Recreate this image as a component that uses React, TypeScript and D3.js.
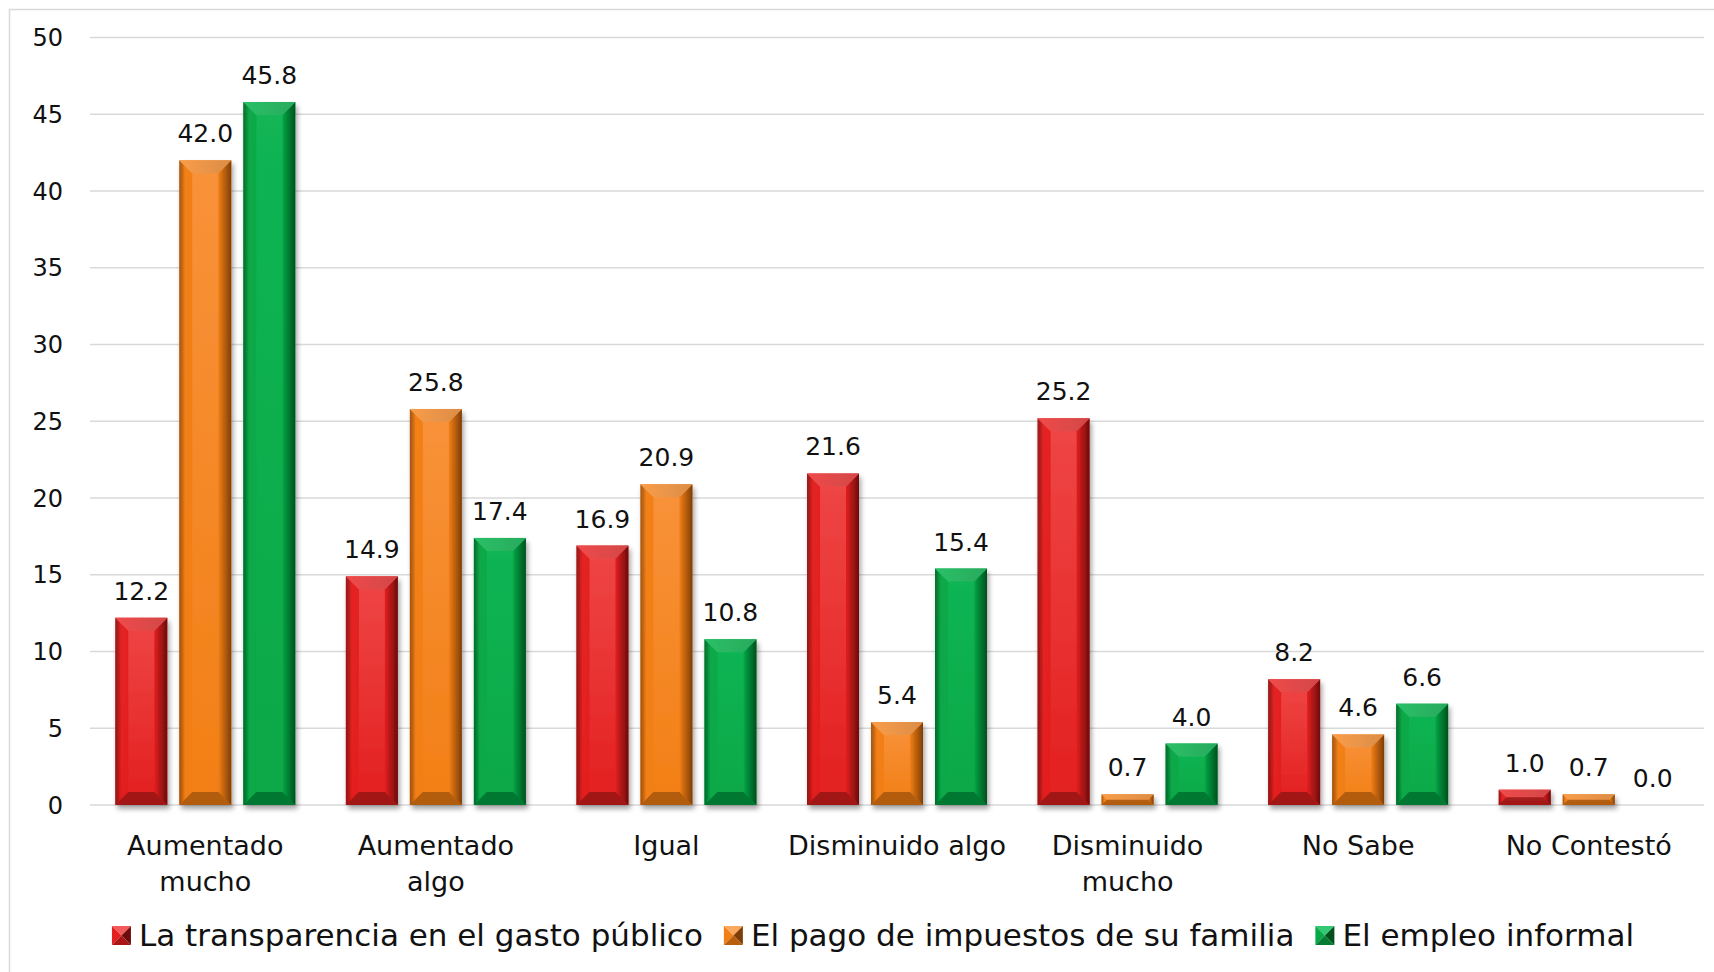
import { useEffect, useRef } from 'react';
import * as d3 from 'd3';

const categories = [
  'Aumentado\nmucho',
  'Aumentado\nalgo',
  'Igual',
  'Disminuido algo',
  'Disminuido\nmucho',
  'No Sabe',
  'No Contestó',
];
const seriesNames = [
  'La transparencia en el gasto público',
  'El pago de impuestos de su familia',
  'El empleo informal',
];
const transparencia = [12.2, 14.9, 16.9, 21.6, 25.2, 8.2, 1.0];
const impuestos = [42.0, 25.8, 20.9, 5.4, 0.7, 4.6, 0.7];
const empleo = [45.8, 17.4, 10.8, 15.4, 4.0, 6.6, 0.0];
const yTicks = [0, 5, 10, 15, 20, 25, 30, 35, 40, 45, 50];

const palette = [
  { light: '#F45A5A', top: '#EF4646', base: '#E31F1F', dark: '#6E0C0C' },
  { light: '#FBA75C', top: '#F8923A', base: '#F27F15', dark: '#7E3E05' },
  { light: '#35C872', top: '#12B554', base: '#07A847', dark: '#02501D' },
];

const WIDTH = 1714;
const HEIGHT = 972;
const FONT = '"DejaVu Sans", sans-serif';

export default function App() {
  const svgRef = useRef<SVGSVGElement>(null);

  useEffect(() => {
    if (!svgRef.current) return;
    const svg = d3.select(svgRef.current);
    svg.selectAll('*').remove();

    const series = [transparencia, impuestos, empleo];
    const margin = { top: 37.5, left: 90, right: 10, bottom: 167 };

    const x = d3.scaleBand<string>()
      .domain(categories)
      .range([margin.left, WIDTH - margin.right])
      .paddingInner(0)
      .paddingOuter(0);
    const y = d3.scaleLinear()
      .domain([0, 50])
      .range([HEIGHT - margin.bottom, margin.top]);

    const barW = 52;
    const step = 64;
    const sub = d3.scaleLinear().domain([0, 2]).range([-step, step]);

    // defs: shadow + gradients
    const defs = svg.append('defs');
    const shadow = defs.append('filter')
      .attr('id', 'shadow')
      .attr('filterUnits', 'userSpaceOnUse')
      .attr('x', 0).attr('y', 0).attr('width', WIDTH).attr('height', HEIGHT);
    shadow.append('feDropShadow')
      .attr('dx', 2).attr('dy', 4).attr('stdDeviation', 2.5)
      .attr('flood-color', '#000').attr('flood-opacity', 0.35);

    palette.forEach((p, i) => {
      const body = defs.append('linearGradient')
        .attr('id', `body-${i}`).attr('x1', 0).attr('y1', 0).attr('x2', 0).attr('y2', 1);
      body.append('stop').attr('offset', '0%').attr('stop-color', p.top);
      body.append('stop').attr('offset', '100%').attr('stop-color', p.base);

      const right = defs.append('linearGradient')
        .attr('id', `right-${i}`).attr('x1', 0).attr('y1', 0).attr('x2', 1).attr('y2', 0);
      right.append('stop').attr('offset', '0%').attr('stop-color', p.base);
      right.append('stop').attr('offset', '100%').attr('stop-color', p.dark);

      const left = defs.append('linearGradient')
        .attr('id', `left-${i}`).attr('x1', 0).attr('y1', 0).attr('x2', 1).attr('y2', 0);
      left.append('stop').attr('offset', '0%').attr('stop-color', p.dark).attr('stop-opacity', 0.7);
      left.append('stop').attr('offset', '45%').attr('stop-color', p.base).attr('stop-opacity', 0.9);
      left.append('stop').attr('offset', '100%').attr('stop-color', p.base).attr('stop-opacity', 1);
    });

    // chart border
    svg.append('rect')
      .attr('x', 9.5).attr('y', 9.5)
      .attr('width', WIDTH).attr('height', HEIGHT)
      .attr('fill', '#fff')
      .attr('stroke', '#D9D9D9').attr('stroke-width', 1.5);

    // gridlines
    svg.append('g')
      .selectAll('line')
      .data(yTicks)
      .enter()
      .append('line')
      .attr('x1', margin.left).attr('x2', WIDTH - margin.right)
      .attr('y1', d => y(d)).attr('y2', d => y(d))
      .attr('stroke', '#D9D9D9').attr('stroke-width', 1.6);

    // y tick labels
    svg.append('g')
      .selectAll('text')
      .data(yTicks)
      .enter()
      .append('text')
      .attr('x', 63)
      .attr('y', d => y(d))
      .attr('dy', '0.36em')
      .attr('text-anchor', 'end')
      .attr('font-size', 24)
      .attr('fill', '#111')
      .style('font-family', FONT)
      .text(d => d);

    // bars
    const plot = svg.append('g');
    series.forEach((vals, s) => {
      const p = palette[s];
      vals.forEach((v, ci) => {
        const cat = categories[ci];
        const cx = (x(cat) ?? 0) + x.bandwidth() / 2 + sub(s);
        const bx = cx - barW / 2;
        const by = y(v);
        const h = y(0) - y(v);

        if (h > 0) {
          const b = Math.min(13, h / 2, barW / 2);
          const g = plot.append('g').attr('filter', 'url(#shadow)');
          g.append('rect')
            .attr('x', bx).attr('y', by).attr('width', barW).attr('height', h)
            .attr('fill', `url(#body-${s})`);
          g.append('path')
            .attr('d', `M${bx},${by}L${bx + b},${by + b}L${bx + b},${by + h - b}L${bx},${by + h}Z`)
            .attr('fill', `url(#left-${s})`);
          g.append('path')
            .attr('d', `M${bx + barW},${by}L${bx + barW},${by + h}L${bx + barW - b},${by + h - b}L${bx + barW - b},${by + b}Z`)
            .attr('fill', `url(#right-${s})`);
          g.append('path')
            .attr('d', `M${bx},${by}L${bx + barW},${by}L${bx + barW - b},${by + b}L${bx + b},${by + b}Z`)
            .attr('fill', p.light);
          g.append('path')
            .attr('d', `M${bx},${by}L${bx + barW},${by}L${bx + barW - b},${by + b}L${bx + b},${by + b}Z`)
            .attr('fill', 'url(#right-' + s + ')')
            .attr('opacity', 0.25);
          g.append('path')
            .attr('d', `M${bx},${by + h}L${bx + barW},${by + h}L${bx + barW - b},${by + h - b}L${bx + b},${by + h - b}Z`)
            .attr('fill', p.dark)
            .attr('opacity', 0.55);
        }

        plot.append('text')
          .attr('x', cx)
          .attr('y', by - 18)
          .attr('text-anchor', 'middle')
          .attr('font-size', 25)
          .attr('fill', '#111')
          .style('font-family', FONT)
          .text(v.toFixed(1));
      });
    });

    // category labels
    const catG = svg.append('g');
    categories.forEach(cat => {
      const lines = cat.split('\n');
      const t = catG.append('text')
        .attr('x', (x(cat) ?? 0) + x.bandwidth() / 2)
        .attr('y', y(0) + 50)
        .attr('text-anchor', 'middle')
        .attr('font-size', 27)
        .attr('fill', '#111')
        .style('font-family', FONT);
      lines.forEach((ln, i) => {
        t.append('tspan')
          .attr('x', (x(cat) ?? 0) + x.bandwidth() / 2)
          .attr('dy', i === 0 ? 0 : 36)
          .text(ln);
      });
    });

    // legend
    const legend = svg.append('g');
    const marker = 19;
    const gapText = 8;
    const gapItem = 21;
    const items = seriesNames.map((name, i) => {
      const item = legend.append('g');
      const txt = item.append('text')
        .attr('x', marker + gapText)
        .attr('y', 0)
        .attr('font-size', 31)
        .attr('fill', '#111')
        .style('font-family', FONT)
        .text(name);
      const w = (txt.node() as SVGTextElement).getComputedTextLength();
      const p = palette[i];
      const m0 = -20;
      const c = marker / 2;
      const tri = (pts: number[][], fill: string) =>
        item.append('path')
          .attr('d', 'M' + pts.map(q => `${q[0]},${q[1] + m0}`).join('L') + 'Z')
          .attr('fill', fill);
      tri([[0, 0], [marker, 0], [c, c]], p.light);
      tri([[0, 0], [0, marker], [c, c]], p.base);
      tri([[marker, 0], [marker, marker], [c, c]], p.dark);
      tri([[0, marker], [marker, marker], [c, c]], d3.interpolateRgb(p.base, p.dark)(0.5));
      return { item, w: marker + gapText + w };
    });
    const total = d3.sum(items, d => d.w) + gapItem * (items.length - 1);
    let lx = 873 - total / 2;
    items.forEach(d => {
      d.item.attr('transform', `translate(${lx},946)`);
      lx += d.w + gapItem;
    });
  }, []);

  return (
    <svg
      ref={svgRef}
      width={WIDTH}
      height={HEIGHT}
      style={{ position: 'absolute', left: 0, top: 0, background: '#fff' }}
    />
  );
}
